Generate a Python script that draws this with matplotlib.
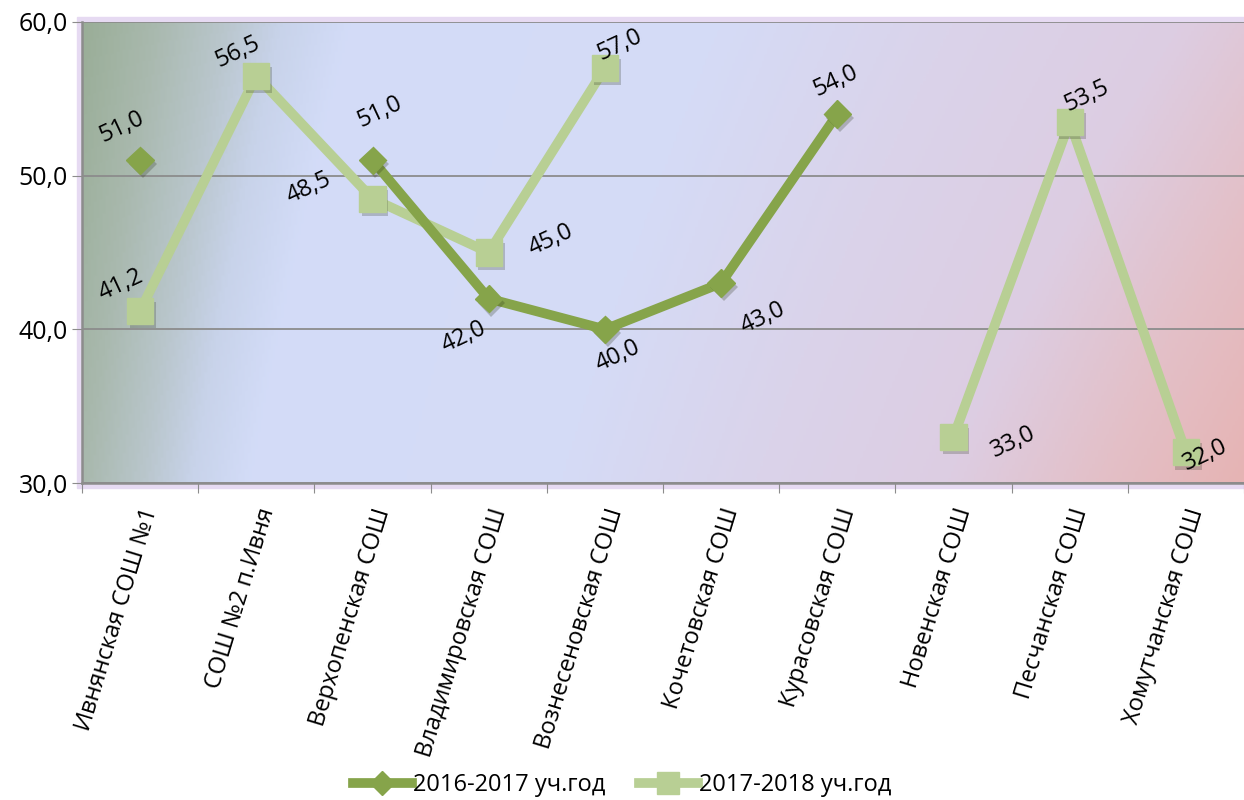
import numpy as np
import matplotlib
matplotlib.use('Agg')
import matplotlib.pyplot as plt
import matplotlib.patheffects as pe
from matplotlib.colors import LinearSegmentedColormap
from matplotlib.lines import Line2D
from matplotlib.patches import Rectangle

plt.rcParams['font.family'] = ['Open Sans', 'DejaVu Sans']

schools = ["Ивнянская СОШ №1", "СОШ №2 п.Ивня", "Верхопенская СОШ",
           "Владимировская СОШ", "Вознесеновская СОШ", "Кочетовская СОШ",
           "Курасовская СОШ", "Новенская СОШ", "Песчанская СОШ",
           "Хомутчанская СОШ"]
y2016 = [51.0, np.nan, 51.0, 42.0, 40.0, 43.0, 54.0, np.nan, np.nan, np.nan]
y2017 = [41.2, 56.5, 48.5, 45.0, 57.0, np.nan, np.nan, 33.0, 53.5, 32.0]
name2016 = "2016-2017 уч.год"
name2017 = "2017-2018 уч.год"

# label offsets in points (dx, dy)
off2016 = [(-13, 24), None, (5, 35), (-18, -28), (9, -19), (30, -25),
           (-1, 24), None, None, None]
off2017 = [(-14, 19), (-13, 17), (-46, 8), (45, 9), (11, 17), None, None,
           (43, -4), (12, 19), (14, -2)]

dark = '#86a44a'
light = '#b8cf94'

fig = plt.figure(figsize=(12.44, 8), dpi=100)
# soft lavender glow around the plot area
fig.patches.append(Rectangle((77 / 1244, 1 - 488 / 800), 1170 / 1244, 471 / 800,
                             transform=fig.transFigure, color='#e6daf2',
                             zorder=-1))
ax = fig.add_axes([82 / 1244, 1 - 483 / 800, (1244 - 82) / 1244, (483 - 22) / 800])

# background gradient
h, w = 200, 400
xx, yy = np.meshgrid(np.linspace(0, 1, w), np.linspace(0, 1, h))
t = (xx + 0.06 * yy * (1 - xx) + 0.25 * yy * xx) / 1.25
stops = [(0.0, '#9aae98'), (0.06, '#a9b9ae'), (0.12, '#b9c6cc'),
         (0.17, '#c8d3ea'), (0.23, '#d3dcf8'), (0.55, '#d5dbf6'),
         (0.75, '#dad3ea'), (0.95, '#ddcde2'), (1.1, '#e3c0c8'),
         (1.25, '#e6b4b4')]
cmap = LinearSegmentedColormap.from_list('bg', [(p / 1.25, c) for p, c in stops])
ax.imshow(t, cmap=cmap, vmin=0, vmax=1, extent=(-0.5, 9.5, 30, 60),
          aspect='auto', origin='upper', zorder=0)

x = np.arange(len(schools))
shadow = [pe.SimplePatchShadow(offset=(2, -3), alpha=0.25), pe.Normal()]
ax.plot(x, y2017, color=light, lw=7, zorder=3, solid_joinstyle='miter')
ax.plot(x, y2017, color=light, ls='none', marker='s', ms=19, zorder=3,
        path_effects=shadow)
ax.plot(x, y2016, color=dark, lw=7, zorder=4, solid_joinstyle='miter')
ax.plot(x, y2016, color=dark, ls='none', marker='D', ms=14, zorder=4,
        path_effects=shadow)

for vals, offs in ((y2016, off2016), (y2017, off2017)):
    for i, v in enumerate(vals):
        if np.isnan(v):
            continue
        ax.annotate(f"{v:.1f}".replace('.', ','), (i, v), xytext=offs[i],
                    textcoords='offset points', ha='center', va='center',
                    rotation=25, fontsize=17, zorder=5)

ax.set_xlim(-0.5, 9.5)
ax.set_ylim(30, 60)
ax.set_yticks([30, 40, 50, 60])
ax.set_yticklabels([f"{v:.1f}".replace('.', ',') for v in [30, 40, 50, 60]],
                   fontsize=18)
ax.yaxis.grid(True, color='#8c8c8c', lw=1.3, zorder=1)
ax.set_xticks(np.arange(-0.5, 10, 1), minor=False)
ax.set_xticklabels([])
ax.set_xticks(x, minor=True)
ax.set_xticklabels(schools, minor=True, rotation=73, ha='right',
                   rotation_mode='anchor', fontsize=17)
ax.tick_params(axis='x', which='minor', length=0, pad=16)
ax.tick_params(axis='x', which='major', length=7, color='#8c8c8c', direction='out')
ax.tick_params(axis='y', length=7, color='#8c8c8c', direction='out', pad=3)
for s in ['top', 'right']:
    ax.spines[s].set_visible(False)
for s in ['left', 'bottom']:
    ax.spines[s].set_color('#8c8c8c')
    ax.spines[s].set_linewidth(1.8)

handles = [Line2D([], [], color=dark, lw=7, marker='D', ms=12),
           Line2D([], [], color=light, lw=7, marker='s', ms=16)]
fig.legend(handles, [name2016, name2017], loc='center',
           bbox_to_anchor=(0.5, 15 / 800), ncol=2, frameon=False,
           fontsize=17, handlelength=2.5, handletextpad=0.05,
           columnspacing=1.4)

fig.savefig('out.png', dpi=100)
